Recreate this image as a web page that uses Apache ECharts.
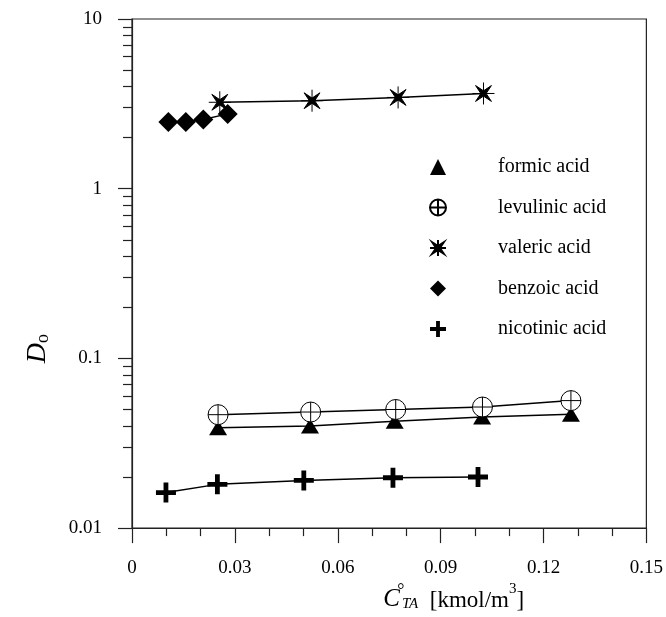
<!DOCTYPE html>
<html>
<head>
<meta charset="utf-8">
<script src="https://cdn.jsdelivr.net/npm/echarts@6/dist/echarts.min.js"></script>
<style>html,body{margin:0;padding:0;background:#fff}#c{width:666px;height:617px}</style>
</head>
<body>
<div id="c"></div>
<script>
// ---- data ----
const seriesNames = ['formic acid', 'levulinic acid', 'valeric acid', 'benzoic acid', 'nicotinic acid'];
const formicX = [0.0251, 0.0519, 0.0766, 0.1021, 0.128];
const formicY = [0.0390, 0.0400, 0.0426, 0.0452, 0.0468];
const levulinicX = [0.0251, 0.0521, 0.0769, 0.1022, 0.128];
const levulinicY = [0.0466, 0.0483, 0.0500, 0.0517, 0.0564];
const valericX = [0.0256, 0.0525, 0.0776, 0.1025];
const valericY = [3.23, 3.30, 3.45, 3.64];
const benzoicX = [0.0106, 0.0157, 0.0208, 0.0279];
const benzoicY = [2.47, 2.47, 2.56, 2.76];
const nicotinicX = [0.0099, 0.0249, 0.0501, 0.0761, 0.1009];
const nicotinicY = [0.0162, 0.0181, 0.0191, 0.0198, 0.0200];
const xTickLabels = ['0', '0.03', '0.06', '0.09', '0.12', '0.15'];
const yTickLabels = ['0.01', '0.1', '1', '10'];
const yMinorTicks = [0.02, 0.03, 0.04, 0.05, 0.06, 0.07, 0.08, 0.09,
                     0.2, 0.3, 0.4, 0.5, 0.6, 0.7, 0.8, 0.9,
                     2, 3, 4, 5, 6, 7, 8, 9];

const pairs = (xs, ys) => xs.map((x, i) => [x, ys[i]]);

const FONT = '"Liberation Serif", "Times New Roman", serif';
const AX = '#222';

const circlePlus = 'path://M50,2 A48,48 0 1,1 49.99,2 Z M50,2 L50,98 M2,50 L98,50';
const starSym = 'path://M14,14 L50,38 L86,14 L62,50 L86,86 L50,62 L14,86 L38,50 Z M50,0 L50,100 M0,50 L100,50';
const plusSym = 'path://M38,0 L62,0 L62,38 L100,38 L100,62 L62,62 L62,100 L38,100 L38,62 L0,62 L0,38 L38,38 Z';

const chart = echarts.init(document.getElementById('c'), null, {renderer: 'canvas'});

function mkSeries(name, data, symbol, size, itemStyle) {
  return {
    name: name, type: 'line', data: data,
    symbol: symbol, symbolSize: size, symbolKeepAspect: true,
    showSymbol: true, animation: false,
    lineStyle: {color: '#000', width: 1.5},
    itemStyle: itemStyle,
    emphasis: {disabled: true}
  };
}

chart.setOption({
  animation: false,
  backgroundColor: '#fff',
  grid: {left: 132, right: 19, top: 19, bottom: 83, show: true, borderColor: AX, borderWidth: 1.2, backgroundColor: 'transparent'},
  legend: {
    orient: 'vertical', left: 378, top: 152,
    itemWidth: 110, itemHeight: 20, itemGap: 20.5,
    textStyle: {fontFamily: FONT, fontSize: 20, color: '#000'},
    lineStyle: {width: 0},
    data: seriesNames
  },
  xAxis: {
    type: 'value', min: 0, max: 0.15, interval: 0.03,
    axisLine: {show: true, lineStyle: {color: AX, width: 1.2}},
    axisTick: {show: true, inside: false, length: 15, lineStyle: {color: AX, width: 1.2}},
    minorTick: {show: true, splitNumber: 3, length: 8, lineStyle: {color: AX, width: 1.2}},
    splitLine: {show: false},
    axisLabel: {margin: 30, fontFamily: FONT, fontSize: 19, color: '#000',
      formatter: (v) => xTickLabels[Math.round(v / 0.03)]},
    name: '{c|C}{deg|°}{sub|TA}{n|  [kmol/m}{sup|3}{n|]}',
    nameLocation: 'middle', nameGap: 52,
    nameTextStyle: {
      padding: [0, 0, 0, 129],
      rich: {
        c: {fontFamily: FONT, fontStyle: 'italic', fontSize: 25, color: '#000', verticalAlign: 'bottom', lineHeight: 30},
        deg: {fontFamily: FONT, fontSize: 18, color: '#000', verticalAlign: 'top', lineHeight: 30, width: 2},
        sub: {fontFamily: FONT, fontStyle: 'italic', fontSize: 15, color: '#000', verticalAlign: 'bottom', lineHeight: 24},
        n: {fontFamily: FONT, fontSize: 23, color: '#000', verticalAlign: 'bottom', lineHeight: 30},
        sup: {fontFamily: FONT, fontSize: 15, color: '#000', verticalAlign: 'top', lineHeight: 30}
      }
    }
  },
  yAxis: [{
    type: 'log', logBase: 10, min: 0.01, max: 10,
    axisLine: {show: true, lineStyle: {color: AX, width: 1.2}},
    axisTick: {show: true, inside: false, length: 14, lineStyle: {color: AX, width: 1.2}},
    splitLine: {show: false},
    axisLabel: {margin: 30, fontFamily: FONT, fontSize: 19, color: '#000',
      formatter: (v) => yTickLabels[Math.round(Math.log10(v)) + 2]},
    name: '{d|D}{s|o}',
    nameLocation: 'middle', nameRotate: 90, nameGap: 80,
    nameTextStyle: {
      padding: [0, 150, 0, 0],
      rich: {
        d: {fontFamily: FONT, fontStyle: 'italic', fontSize: 28, color: '#000', verticalAlign: 'bottom', lineHeight: 32},
        s: {fontFamily: FONT, fontSize: 18, color: '#000', verticalAlign: 'bottom', lineHeight: 26}
      }
    }
  }, {
    type: 'log', logBase: 10, min: 0.01, max: 10, position: 'left',
    axisLine: {show: false},
    axisTick: {show: true, inside: false, length: 9, customValues: yMinorTicks, lineStyle: {color: AX, width: 1.2}},
    axisLabel: {show: false},
    splitLine: {show: false}
  }],
  series: [
    mkSeries(seriesNames[0], pairs(formicX, formicY), 'triangle', [18, 15], {color: '#000'}),
    mkSeries(seriesNames[1], pairs(levulinicX, levulinicY), circlePlus, 20, {color: '#fff', borderColor: '#000', borderWidth: 1}),
    mkSeries(seriesNames[2], pairs(valericX, valericY), starSym, 22, {color: '#000', borderColor: '#000', borderWidth: 1}),
    mkSeries(seriesNames[3], pairs(benzoicX, benzoicY), 'diamond', 20, {color: '#000'}),
    mkSeries(seriesNames[4], pairs(nicotinicX, nicotinicY), plusSym, 20, {color: '#000'})
  ]
});
</script>
</body>
</html>
